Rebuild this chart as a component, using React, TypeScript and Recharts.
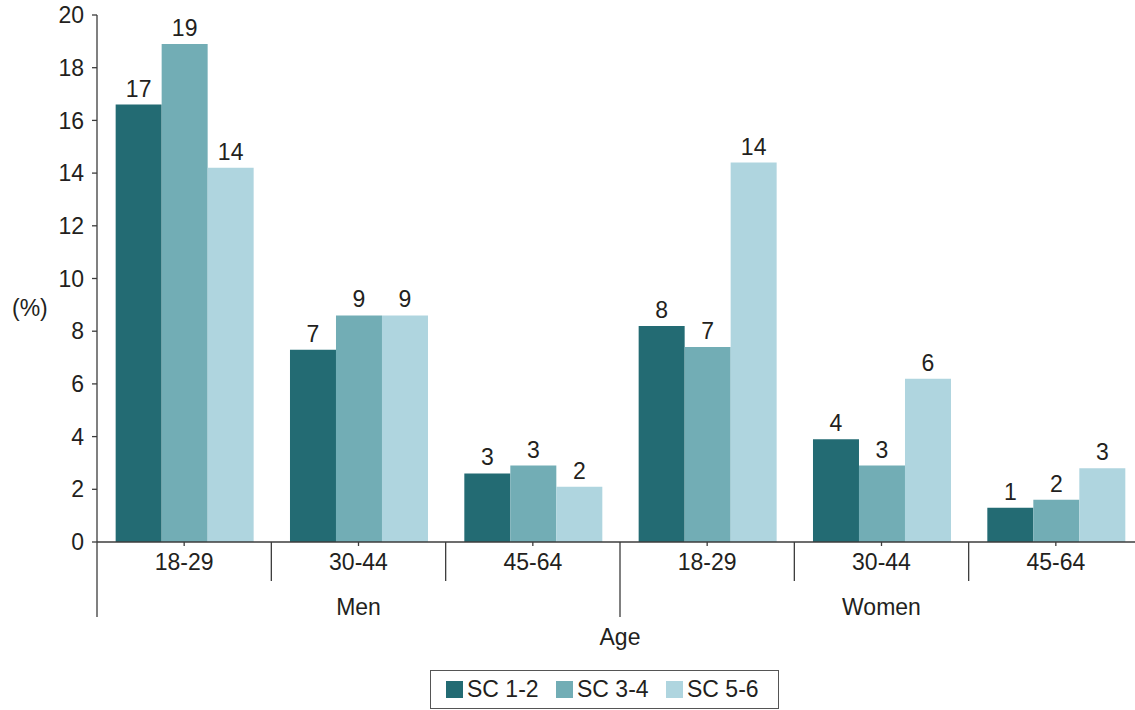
import React from 'react';
import { BarChart, Bar, XAxis, YAxis, LabelList, Legend } from 'recharts';

const ages = ['18-29', '30-44', '45-64', '18-29', '30-44', '45-64'];
const sexes = ['Men', 'Men', 'Men', 'Women', 'Women', 'Women'];
const sc12 = [16.6, 7.3, 2.6, 8.2, 3.9, 1.3];
const sc34 = [18.9, 8.6, 2.9, 7.4, 2.9, 1.6];
const sc56 = [14.2, 8.6, 2.1, 14.4, 6.2, 2.8];
const yTicks = [0, 2, 4, 6, 8, 10, 12, 14, 16, 18, 20];
const seriesKeys = ['sc12', 'sc34', 'sc56'];
const seriesNames = ['SC 1-2', 'SC 3-4', 'SC 5-6'];
const colors = ['#236b73', '#72adb5', '#afd5df'];

const data = ages.map((age, i) => ({
  key: `${sexes[i]} ${age}`,
  age,
  sex: sexes[i],
  sc12: sc12[i],
  sc34: sc34[i],
  sc56: sc56[i],
}));

const W = 1160;
const H = 710;
const Y_W = 97;
const M_RIGHT = 17;
const BAND = (W - Y_W - M_RIGHT) / ages.length;
const TICK_SIZE = 4;
const TICK_MARGIN = 8;
const TEXT = '#231f20';
const AXIS = '#3c3c3c';
const FS = 23;

const AgeTick = (props: any) => {
  const { x, y, index } = props;
  const axisY = y - TICK_SIZE - TICK_MARGIN;
  const left = x - BAND / 2;
  const long = index % 3 === 0;
  return (
    <g>
      <line x1={left} x2={left} y1={axisY} y2={axisY + (long ? 75 : 39)} stroke={AXIS} strokeWidth={1.3} />
      <text x={x} y={y} dy="0.71em" textAnchor="middle" fill={TEXT} fontSize={FS}>
        {ages[index]}
      </text>
      {/* group name under the middle age band */}
      {index % 3 === 1 && (
        <text x={x} y={axisY + 73} textAnchor="middle" fill={TEXT} fontSize={FS}>
          {sexes[index]}
        </text>
      )}
    </g>
  );
};

const LegendBox = () => (
  <div
    style={{
      boxSizing: 'border-box',
      width: 349,
      height: 39,
      border: '1.5px solid #555',
      display: 'flex',
      alignItems: 'center',
      paddingLeft: 15,
      fontSize: FS,
      color: TEXT,
    }}
  >
    {seriesNames.map((n, i) => (
      <span key={n} style={{ display: 'flex', alignItems: 'center', width: 110 }}>
        <span style={{ width: 17, height: 17, background: colors[i], marginRight: 4, display: 'inline-block' }} />
        {n}
      </span>
    ))}
  </div>
);

const App = () => (
  <div
    style={{
      position: 'absolute',
      left: 0,
      top: 0,
      width: 1135,
      height: 710,
      overflow: 'hidden',
      background: '#fff',
      fontFamily: '"Liberation Sans", Arial, sans-serif',
    }}
  >
    <BarChart
      width={W}
      height={H}
      data={data}
      margin={{ top: 15, right: M_RIGHT, left: 0, bottom: 65 }}
      barCategoryGap="10.7%"
      barGap={0}
    >
      <XAxis
        dataKey="key"
        height={103}
        interval={0}
        tickSize={TICK_SIZE}
        tickMargin={TICK_MARGIN}
        tick={AgeTick}
        axisLine={{ stroke: AXIS, strokeWidth: 1.3 }}
        tickLine={{ stroke: AXIS, strokeWidth: 1.3 }}
        label={{ value: 'Age', position: 'insideBottom', offset: 0, fill: TEXT, fontSize: FS }}
      />
      <YAxis
        width={Y_W}
        domain={[0, 20]}
        ticks={yTicks}
        interval={0}
        tickSize={5}
        tickMargin={8}
        tick={{ fill: TEXT, fontSize: FS }}
        axisLine={{ stroke: AXIS, strokeWidth: 1.3 }}
        tickLine={{ stroke: AXIS, strokeWidth: 1.3 }}
        label={{ value: '(%)', position: 'insideLeft', offset: 12, dy: 29, fill: TEXT, fontSize: FS }}
      />
      <Legend
        verticalAlign="middle"
        align="center"
        layout="horizontal"
        wrapperStyle={{ left: 430, top: 670, width: 349, height: 39 }}
        content={LegendBox}
      />
      {seriesKeys.map((k, i) => (
        <Bar key={k} dataKey={k} name={seriesNames[i]} fill={colors[i]} isAnimationActive={false}>
          <LabelList
            dataKey={k}
            position="top"
            offset={8}
            formatter={(v: any) => Math.round(Number(v))}
            fill={TEXT}
            fontSize={FS}
          />
        </Bar>
      ))}
    </BarChart>
  </div>
);

export default App;
